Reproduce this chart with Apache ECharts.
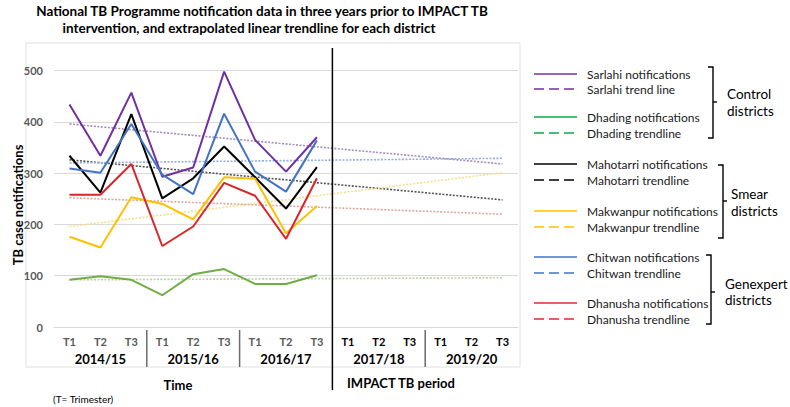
<!DOCTYPE html>
<html><head><meta charset="utf-8">
<script src="https://cdn.jsdelivr.net/npm/echarts@6/dist/echarts.min.js"></script>
<style>html,body{margin:0;padding:0;background:#fff}#c{width:790px;height:407px}</style>
</head><body><div id="c"></div>
<script>
// ---- data ----
const trimesters = ['T1','T2','T3','T1','T2','T3','T1','T2','T3','T1','T2','T3','T1','T2','T3'];
const years = ['2014/15','2015/16','2016/17','2017/18','2019/20'];
const sarlahi   = [434,334,457,293,311,498,365,303,370];
const dhading   = [92,99,92,62,103,113,84,84,101];
const mahotarri = [334,262,415,251,290,352,292,231,312];
const makwanpur = [176,155,253,240,210,292,289,183,236];
const chitwan   = [309,301,396,297,259,416,303,264,364];
const dhanusha  = [258,258,318,158,196,281,256,172,290];
// trendline values at first (T1 2014/15) and last (T3 2019/20) trimester
const sarlahiTrend   = [396,318];
const dhadingTrend   = [92,96];
const mahotarriTrend = [326,248];
const makwanpurTrend = [196,301];
const chitwanTrend   = [320,329];
const dhanushaTrend  = [252,220];
const legendNames = [
  ['Sarlahi notifications','Sarlahi trend line'],
  ['Dhading notifications','Dhading trendline'],
  ['Mahotarri notifications','Mahotarri trendline'],
  ['Makwanpur notifications','Makwanpur trendline'],
  ['Chitwan notifications','Chitwan trendline'],
  ['Dhanusha notifications','Dhanusha trendline']
];
const groupNames = [['Control','districts'],['Smear','districts'],['Genexpert','districts']];

// ---- styles ----
const FONT = 'Lato, "Open Sans", sans-serif';
const lineColors  = ['#7030A0','#70AD47','#000000','#FFC000','#4472C4','#D9262A'];
const trendColors = ['#A48CBC','#B9D3A3','#555555','#F3E08C','#93AEDD','#DDA89C'];
const legendColors= ['#7030A0','#00B050','#000000','#FFC000','#4472C4','#E02B2B'];
const notif = [sarlahi,dhading,mahotarri,makwanpur,chitwan,dhanusha];
const trends = [sarlahiTrend,dhadingTrend,mahotarriTrend,makwanpurTrend,chitwanTrend,dhanushaTrend];
const lastIdx = trimesters.length - 1;

const series = [];
trends.forEach((t,i)=>{
  series.push({
    name: legendNames[i][1], type:'line', xAxisIndex:0, symbol:'none', silent:true, z:1,
    data: [[0,t[0]],[lastIdx,t[1]]],
    lineStyle:{color:trendColors[i], width:1.6, type:[2,1.5]}
  });
});
notif.forEach((d,i)=>{
  series.push({
    name: legendNames[i][0], type:'line', xAxisIndex:0, symbol:'none', silent:true, z:3,
    data: d, lineStyle:{color:lineColors[i], width:2}
  });
});

const chart = echarts.init(document.getElementById('c'), null, {renderer:'svg'});
chart.setOption({
  animation:false,
  textStyle:{fontFamily:FONT},
  grid:{left:54, right:272, top:45, bottom:80},
  xAxis:[{
    type:'category', data:trimesters, boundaryGap:true,
    axisLine:{show:true, lineStyle:{color:'#d9d9d9', width:1}},
    axisTick:{show:false},
    axisLabel:{
      margin:9, interval:0,
      formatter:(v,i)=> i < 9 ? '{g|'+v+'}' : '{b|'+v+'}',
      rich:{
        g:{color:'#595959', fontSize:11, fontWeight:'bold', fontFamily:FONT},
        b:{color:'#000000', fontSize:11, fontWeight:'bold', fontFamily:FONT}
      }
    }
  },{
    type:'category', data:years, position:'bottom', boundaryGap:true,
    axisLine:{show:false}, axisTick:{show:false},
    axisLabel:{margin:25, interval:0, color:'#000', fontSize:13, fontWeight:'bold', fontFamily:FONT}
  }],
  yAxis:{
    type:'value', min:0, max:550, interval:100,
    axisLine:{show:false}, axisTick:{show:false},
    axisLabel:{color:'#595959', fontSize:11, fontWeight:'bold', margin:11, showMaxLabel:false, fontFamily:FONT},
    splitLine:{show:true, showMaxLine:false, lineStyle:{color:'#d9d9d9', width:1}}
  },
  series: series
});

// ---- decorations: frame, separators, legend ----
const g = [];
g.push({type:'rect', shape:{x:26, y:43, width:494, height:324}, style:{fill:'none', stroke:'#e0e0e0', lineWidth:1}, z:0, silent:true});
g.push({type:'text', x:262, y:11, style:{text:'National TB Programme notification data in three years prior to IMPACT TB', font:'bold 13.5px '+FONT, fill:'#000', align:'center', verticalAlign:'middle'}});
g.push({type:'text', x:249, y:28, style:{text:'intervention, and extrapolated linear trendline for each district', font:'bold 13.5px '+FONT, fill:'#000', align:'center', verticalAlign:'middle'}});
g.push({type:'text', x:18, y:205, rotation:Math.PI/2, style:{text:'TB case notifications', font:'bold 13px '+FONT, fill:'#000', align:'center', verticalAlign:'middle'}});
g.push({type:'text', x:178, y:385, style:{text:'Time', font:'bold 13px '+FONT, fill:'#000', align:'center', verticalAlign:'middle'}});
g.push({type:'text', x:347, y:383, style:{text:'IMPACT TB period', font:'bold 13px '+FONT, fill:'#000', align:'left', verticalAlign:'middle'}});
g.push({type:'text', x:53, y:399, style:{text:'(T= Trimester)', font:'10px '+FONT, fill:'#000', align:'left', verticalAlign:'middle'}});

const px = i => chart.convertToPixel({xAxisIndex:0}, i);
const bnd = i => (px(i-1) + px(i)) / 2;
[3,6,12].forEach(i=>{
  const x = bnd(i);
  g.push({type:'line', shape:{x1:x, y1:330, x2:x, y2:367}, style:{stroke:'#6b6b6b', lineWidth:1.5}, silent:true});
});
const xi = bnd(9);
g.push({type:'line', shape:{x1:xi, y1:48, x2:xi, y2:390}, style:{stroke:'#000', lineWidth:1.5}, silent:true, z:10});

const rowsY = [[74,89],[117,133],[164,180],[211,227],[257,273],[303,319]];
legendNames.forEach((pair,i)=>{
  pair.forEach((name,j)=>{
    const y = rowsY[i][j];
    g.push({type:'line', shape:{x1:534, y1:y, x2:577, y2:y}, style:{stroke:legendColors[i], lineWidth:1.6, lineDash: j===1 ? [10,5] : null}, silent:true});
    g.push({type:'text', x:587, y:y, style:{text:name, font:'12px '+FONT, lineHeight:12, fill:'#1a1a1a', align:'left', verticalAlign:'middle'}});
  });
});
const brackets = [
  {x:713, top:67, bot:138, mid:102, tx:727, ty:[94,111]},
  {x:723, top:165, bot:238, mid:201, tx:731, ty:[194,211]},
  {x:711, top:255, bot:324, mid:292, tx:725, ty:[284,300]}
];
brackets.forEach((b,i)=>{
  g.push({type:'polyline', shape:{points:[[b.x-5,b.top],[b.x,b.top],[b.x,b.bot],[b.x-5,b.bot]]}, style:{stroke:'#000', lineWidth:1.4, fill:'none'}, silent:true});
  g.push({type:'line', shape:{x1:b.x, y1:b.mid, x2:b.x+4, y2:b.mid}, style:{stroke:'#000', lineWidth:1.4}, silent:true});
  groupNames[i].forEach((t,k)=>{
    g.push({type:'text', x:b.tx, y:b.ty[k], style:{text:t, font:'13.5px '+FONT, lineHeight:14, fill:'#000', align:'left', verticalAlign:'middle'}});
  });
});
chart.setOption({graphic:g});
</script></body></html>
